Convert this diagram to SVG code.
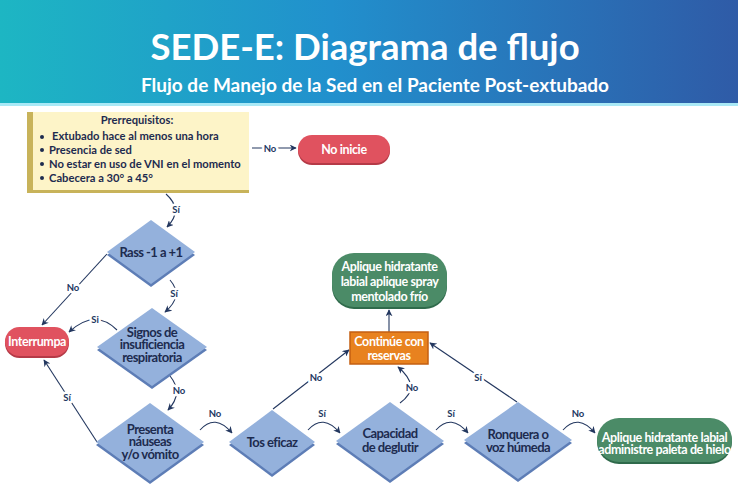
<svg xmlns="http://www.w3.org/2000/svg" width="738" height="498" viewBox="0 0 738 498">
<defs>
<linearGradient id="hdr" x1="0" y1="0" x2="1" y2="0">
<stop offset="0" stop-color="#1db6c3"/>
<stop offset="0.45" stop-color="#2190cd"/>
<stop offset="1" stop-color="#2f5ba7"/>
</linearGradient>
<marker id="ah" viewBox="0 0 10 10" refX="9" refY="5" markerWidth="7" markerHeight="7" orient="auto-start-reverse" markerUnits="userSpaceOnUse">
<path d="M0,0 L10,5 L0,10 L3,5 z" fill="#23375f"/>
</marker>
<style>
text{font-family:Lato,"Liberation Sans",sans-serif;}
.t{font-size:13px;font-weight:700;fill:#1d2b4f;text-anchor:middle;letter-spacing:-0.55px;}
.w{font-size:12.5px;font-weight:700;fill:#ffffff;text-anchor:middle;letter-spacing:-0.4px;}
.lbl{font-size:9.5px;font-weight:700;fill:#23375f;text-anchor:middle;stroke:#ffffff;stroke-width:5px;paint-order:stroke;stroke-linejoin:round;}
.c{fill:none;stroke:#23375f;stroke-width:1.1;marker-end:url(#ah);}
.dia{fill:#94b1dc;}
.dsh{fill:#5d7db6;}
.red{fill:#e0525f;}
.redsh{fill:#b53a47;}
.grn{fill:#4b8b67;}
.grnsh{fill:#2f6a4b;}
.pre{font-size:11.2px;font-weight:700;fill:#1d2b4f;}
</style>
</defs>
<rect x="0" y="0" width="738" height="498" fill="#ffffff"/>
<g id="header">
<rect x="0" y="0" width="738" height="104" fill="url(#hdr)"/>
<rect x="0" y="103" width="738" height="3" fill="#a9e9f6"/>
<text x="365" y="60" text-anchor="middle" font-size="36.5" font-weight="700" fill="#ffffff">SEDE-E: Diagrama de flujo</text>
<text x="375" y="92" text-anchor="middle" font-size="19" font-weight="700" fill="#ffffff">Flujo de Manejo de la Sed en el Paciente Post-extubado</text>
</g>
<g id="connectors">
<path class="c" d="M252,148 L296,148"/>
<text class="lbl" x="270" y="151.5">No</text>
<path class="c" d="M166,194 Q184,210 167,227"/>
<text class="lbl" x="176" y="213">Sí</text>
<path class="c" d="M107,254 L42,325"/>
<text class="lbl" x="73" y="291">No</text>
<path class="c" d="M170,280 Q184,296 165,312"/>
<text class="lbl" x="174" y="297">Sí</text>
<path class="c" d="M117,330 Q95,308 69,332"/>
<text class="lbl" x="95" y="323">Si</text>
<path class="c" d="M170,376 Q184,393 168,410"/>
<text class="lbl" x="179" y="394">No</text>
<path class="c" d="M97,442 L44,360"/>
<text class="lbl" x="67" y="401">Sí</text>
<path class="c" d="M200,430 Q215,413 232,433"/>
<text class="lbl" x="215" y="417">No</text>
<path class="c" d="M308,430 Q323,413 340,433"/>
<text class="lbl" x="322" y="417">Sí</text>
<path class="c" d="M436,430 Q451,413 468,433"/>
<text class="lbl" x="451" y="417">Sí</text>
<path class="c" d="M563,430 Q578,413 595,433"/>
<text class="lbl" x="578" y="417">No</text>
<path class="c" d="M273,409 L349,350"/>
<text class="lbl" x="316" y="381">No</text>
<path class="c" d="M517,402 L430,343"/>
<text class="lbl" x="478" y="381">Sí</text>
<path class="c" d="M400,403 Q411,395 411,386 Q409,376 398,367"/>
<text class="lbl" x="412" y="391">No</text>
<path class="c" d="M389,332 L389,310"/>
</g>
<g id="prerrequisitos">
<rect x="27" y="112" width="222" height="81" fill="#c8b35a"/>
<rect x="33" y="112" width="216" height="78" fill="#fdf4c8"/>
<text class="pre" x="137" y="124" text-anchor="middle">Prerrequisitos:</text>
<circle cx="42" cy="137" r="2" fill="#1d2b4f"/>
<text class="pre" x="52" y="140">Extubado hace al menos una hora</text>
<circle cx="42" cy="150" r="2" fill="#1d2b4f"/>
<text class="pre" x="49" y="154">Presencia de sed</text>
<circle cx="42" cy="164" r="2" fill="#1d2b4f"/>
<text class="pre" x="49" y="168">No estar en uso de VNI en el momento</text>
<circle cx="42" cy="178" r="2" fill="#1d2b4f"/>
<text class="pre" x="49" y="182">Cabecera a 30° a 45°</text>
</g>
<g id="no-inicie">
<rect class="redsh" x="298" y="137" width="92" height="28" rx="14"/>
<rect class="red" x="298" y="135" width="92" height="28" rx="14"/>
<text class="w" x="344" y="153.5">No inicie</text>
</g>
<g id="rass">
<polygon class="dsh" points="151,223 195,255 151,287 107,255"/>
<polygon class="dia" points="151,220 195,252 151,284 107,252"/>
<text class="t" x="151" y="257">Rass -1 a +1</text>
</g>
<g id="interrumpa">
<rect class="redsh" x="5" y="329" width="64" height="29" rx="14.5"/>
<rect class="red" x="5" y="327" width="64" height="29" rx="14.5"/>
<text class="w" x="37" y="346" font-size="12">Interrumpa</text>
</g>
<g id="signos">
<polygon class="dsh" points="152,311 207,350 152,389 97,350"/>
<polygon class="dia" points="152,308 207,347 152,386 97,347"/>
<text class="t" x="152" y="336.5">Signos de</text>
<text class="t" x="152" y="349">insuficiencia</text>
<text class="t" x="152" y="361.5">respiratoria</text>
</g>
<g id="presenta">
<polygon class="dsh" points="150,406 204,445 150,484 96,445"/>
<polygon class="dia" points="150,403 204,442 150,481 96,442"/>
<text class="t" x="150" y="433.5">Presenta</text>
<text class="t" x="150" y="446">náuseas</text>
<text class="t" x="150" y="458.5">y/o vómito</text>
</g>
<g id="tos">
<polygon class="dsh" points="272,413 315,445 272,477 229,445"/>
<polygon class="dia" points="272,410 315,442 272,474 229,442"/>
<text class="t" x="272" y="446.5">Tos eficaz</text>
</g>
<g id="capacidad">
<polygon class="dsh" points="390,405 444,444 390,483 336,444"/>
<polygon class="dia" points="390,402 444,441 390,480 336,441"/>
<text class="t" x="390" y="438">Capacidad</text>
<text class="t" x="390" y="451.5">de deglutir</text>
</g>
<g id="ronquera">
<polygon class="dsh" points="518,405 572,443 518,482 464,443"/>
<polygon class="dia" points="518,402 572,440 518,479 464,440"/>
<text class="t" x="518" y="439">Ronquera o</text>
<text class="t" x="518" y="451.5">voz húmeda</text>
</g>
<g id="continue">
<rect x="350" y="332" width="78" height="32" fill="#e8821f" stroke="#c45f12" stroke-width="1.5"/>
<text class="w" x="389" y="346">Continúe con</text>
<text class="w" x="389" y="359.5">reservas</text>
</g>
<g id="aplique-spray">
<rect class="grnsh" x="332" y="255" width="115" height="54" rx="22"/>
<rect class="grn" x="332" y="253" width="115" height="54" rx="22"/>
<text class="w" x="389.5" y="271">Aplique hidratante</text>
<text class="w" x="389.5" y="286">labial aplique spray</text>
<text class="w" x="389.5" y="301">mentolado frío</text>
</g>
<g id="aplique-hielo">
<rect class="grnsh" x="597" y="420" width="135" height="44" rx="22"/>
<rect class="grn" x="597" y="418" width="135" height="44" rx="22"/>
<text class="w" x="664.5" y="441.5" font-size="10.9" letter-spacing="-0.5">Aplique hidratante labial</text>
<text class="w" x="664.5" y="454" font-size="10.9" letter-spacing="-0.5">administre paleta de hielo</text>
</g>
</svg>
